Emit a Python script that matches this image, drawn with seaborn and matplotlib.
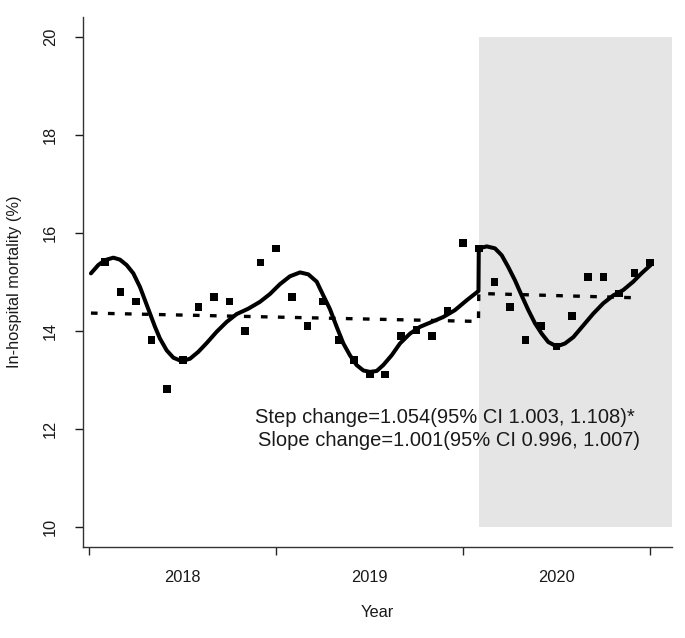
import matplotlib
matplotlib.use("Agg")
import matplotlib.pyplot as plt
import seaborn as sns
import pandas as pd

# monthly observed in-hospital mortality, Jan 2018 .. Dec 2020 (month index 1..36)
month = list(range(1, 37))
mortality = [15.41, 14.80, 14.61, 13.82, 12.82, 13.41, 14.50, 14.70, 14.61, 14.01, 15.40, 15.69,
             14.70, 14.11, 14.61, 13.82, 13.41, 13.12, 13.12, 13.90, 14.02, 13.90, 14.41, 15.80,
             15.69, 15.00, 14.50, 13.82, 14.11, 13.69, 14.31, 15.11, 15.11, 14.77, 15.19, 15.40]

# fitted seasonal model (solid line)
fit_t = [0.11, 0.58, 1.01, 1.55, 1.97, 2.40, 2.83, 3.26, 3.58, 3.90, 4.22, 4.54, 4.97, 5.40,
         5.93, 6.47, 7.00, 7.54, 8.18, 8.82, 9.46, 10.21, 10.96, 11.60, 12.24, 12.88, 13.53,
         14.06, 14.60, 15.02, 15.45, 15.88, 16.31, 16.73, 17.16, 17.59, 18.02, 18.45, 18.87,
         19.41, 19.94, 20.58, 21.23, 21.98, 22.72, 23.47, 24.22, 24.98,
         25.00, 25.51, 26.04, 26.47, 26.89, 27.32, 27.75, 28.18, 28.61, 29.04, 29.46, 30.00,
         30.53, 31.07, 31.71, 32.35, 32.99, 33.63, 34.27, 34.91, 35.44, 36.03]
fit_y = [15.18, 15.35, 15.45, 15.50, 15.46, 15.35, 15.18, 14.90, 14.63, 14.36, 14.09, 13.85,
         13.61, 13.46, 13.39, 13.44, 13.58, 13.76, 13.99, 14.19, 14.35, 14.46, 14.60, 14.76,
         14.96, 15.12, 15.20, 15.16, 15.01, 14.73, 14.45, 14.09, 13.75, 13.51, 13.31, 13.20,
         13.17, 13.19, 13.31, 13.51, 13.75, 13.95, 14.09, 14.19, 14.29, 14.43, 14.63, 14.82,
         15.69, 15.73, 15.69, 15.55, 15.31, 15.04, 14.73, 14.43, 14.16, 13.95, 13.78, 13.69,
         13.75, 13.88, 14.12, 14.36, 14.57, 14.73, 14.84, 15.01, 15.18, 15.35]

# deseasonalised trend (dashed line)
trend_t = [0.11, 24.98, 25.0, 35.4]
trend_y = [14.37, 14.20, 14.77, 14.68]

year_ticks = [0, 12, 24, 36]
year_labels = ["2018", "2019", "2020"]
year_mid = [6, 18, 30]
step_text = "Step change=1.054(95% CI 1.003, 1.108)*"
slope_text = "Slope change=1.001(95% CI 0.996, 1.007)"

sns.set_style("white")
plt.rcParams['font.family'] = ['Liberation Sans', 'DejaVu Sans']

fig = plt.figure(figsize=(6.85, 6.38), dpi=100)
ax = fig.add_axes([83 / 685, 91 / 638, 589 / 685, 529.6 / 638])

# intervention period shading
ax.axvspan(25, 37.4, ymin=(10 - 9.6) / 10.8, ymax=(20 - 9.6) / 10.8, color="#e5e5e5", lw=0, zorder=0)

obs = pd.DataFrame({"month": month, "mortality": mortality})
fit = pd.DataFrame({"t": fit_t, "y": fit_y})
trend = pd.DataFrame({"t": trend_t, "y": trend_y})

sns.lineplot(data=trend, x="t", y="y", ax=ax, sort=False, estimator=None, color="black",
             lw=2.4, zorder=2)
ax.lines[-1].set_dashes((2.0, 3.1))
ax.lines[-1].set_dash_capstyle("butt")
sns.lineplot(data=fit, x="t", y="y", ax=ax, sort=False, estimator=None, color="black", lw=2.9, zorder=3)
ax.lines[-1].set_solid_joinstyle("round")
sns.scatterplot(data=obs, x="month", y="mortality", ax=ax, marker="s", s=30, color="black",
                edgecolor="none", zorder=4)

ax.text(22.83, 12.24, step_text, ha="center", va="center", fontsize=14.5, color="#1a1a1a")
ax.text(23.09, 11.78, slope_text, ha="center", va="center", fontsize=14.5, color="#1a1a1a")

ax.set_xlim(-0.4, 37.4)
ax.set_ylim(9.6, 20.4)
ax.set_yticks([10, 12, 14, 16, 18, 20])
ax.set_xticks(year_ticks)
ax.set_xticklabels([])
for m, lab in zip(year_mid, year_labels):
    ax.text(m, -0.058, lab, transform=ax.get_xaxis_transform(), ha="center", va="center",
            fontsize=11.8, color="#1a1a1a")
for lab in ax.get_yticklabels():
    lab.set_rotation(90)
    lab.set_va("center")
ax.tick_params(axis="y", direction="out", length=6, width=1, pad=12, labelsize=11.8,
               colors="#1a1a1a", left=True)
ax.tick_params(axis="x", direction="out", length=6, width=1, bottom=True)

ax.set_xlabel("Year", fontsize=11.8, color="#1a1a1a")
ax.set_ylabel("In-hospital mortality (%)", fontsize=11.8, color="#1a1a1a")
ax.xaxis.set_label_coords(0.5, -0.11)
ax.yaxis.set_label_coords(-0.103, 0.5)

sns.despine(ax=ax)
for side in ["left", "bottom"]:
    ax.spines[side].set_color("#333333")
    ax.spines[side].set_linewidth(1)

fig.savefig("out.png", dpi=100)
